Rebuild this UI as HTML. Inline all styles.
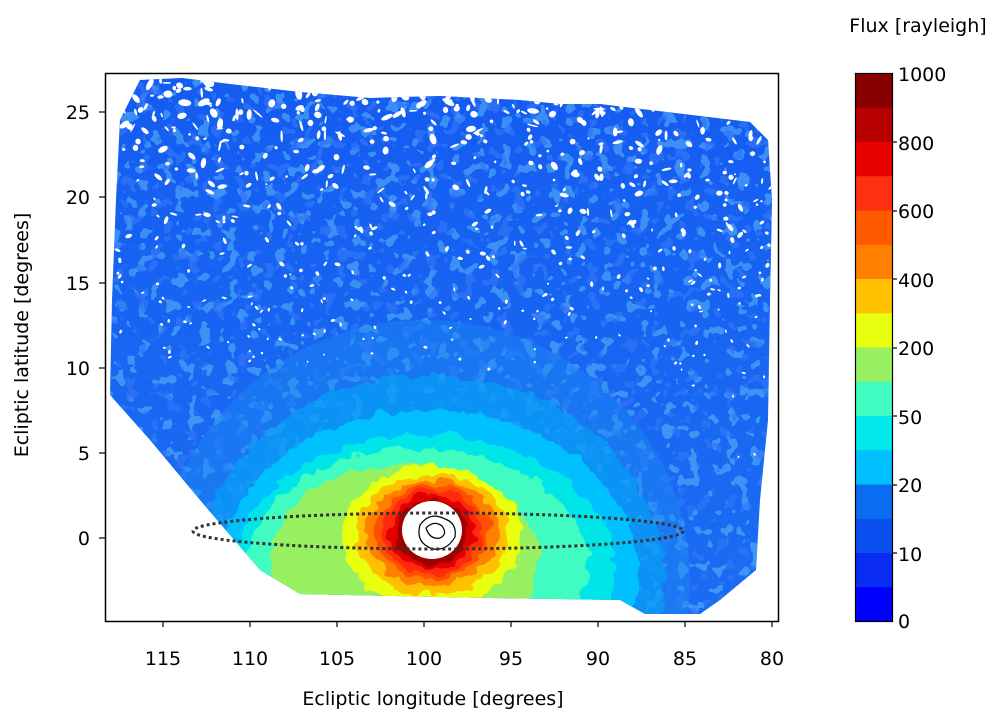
<!DOCTYPE html>
<html><head><meta charset="utf-8"><style>
html,body{margin:0;padding:0;background:#fff;overflow:hidden;width:1000px;height:725px;}
svg{display:block;}
svg text{font-family:"DejaVu Sans","Liberation Sans",sans-serif;fill:#000;}
</style></head><body>
<svg id="s" width="1000" height="725" viewBox="0 0 1000 725" xmlns="http://www.w3.org/2000/svg">
<defs>
<clipPath id="dom"><path d="M140,80 L182,78 L230,84 L300,92 L370,98 L440,96 L520,100 L560,104 L600,104 L650,110 L700,116 L750,122 L768,140 L772,200 L770,300 L768,420 L760,500 L756,570 L720,600 L700,614 L645,614 L620,600 L490,598 L300,594 L260,570 L200,500 L150,440 L110,395 L112,300 L116,200 L120,120 Z"/></clipPath>
<filter id="rough" x="-10%" y="-10%" width="120%" height="120%">
<feTurbulence type="fractalNoise" baseFrequency="0.07" numOctaves="2" seed="3"/>
<feDisplacementMap in="SourceGraphic" scale="16" xChannelSelector="R" yChannelSelector="G"/>
</filter>
<filter id="mottle" x="0" y="0" width="100%" height="100%"><feTurbulence type="fractalNoise" baseFrequency="0.08" numOctaves="2" seed="7"/>
<feColorMatrix type="matrix" values="0 0 0 0 0.03  0 0 0 0 0.18  0 0 0 0 0.95  4 0 0 0 -2.0"/>
<feComponentTransfer><feFuncA type="discrete" tableValues="0 1"/></feComponentTransfer></filter>
<filter id="mottle2" x="0" y="0" width="100%" height="100%"><feTurbulence type="fractalNoise" baseFrequency="0.08" numOctaves="2" seed="11"/>
<feColorMatrix type="matrix" values="0 0 0 0 0.12  0 0 0 0 0.52  0 0 0 0 0.95  0 4 0 0 -2.0"/>
<feComponentTransfer><feFuncA type="discrete" tableValues="0 1"/></feComponentTransfer></filter>
<linearGradient id="fade" x1="0" y1="0" x2="0" y2="1"><stop offset="0" stop-color="#0a3cf0" stop-opacity="0.35"/><stop offset="0.6" stop-color="#0a3cf0" stop-opacity="0.1"/><stop offset="1" stop-color="#0a3cf0" stop-opacity="0"/></linearGradient>
</defs>
<g clip-path="url(#dom)">
<rect x="100" y="70" width="680" height="560" fill="#1a6cf2"/>
<rect x="100" y="70" width="680" height="560" fill="url(#fade)"/>
<rect x="100" y="70" width="680" height="560" filter="url(#mottle2)" opacity="0.5"/>
<rect x="100" y="70" width="680" height="560" filter="url(#mottle)" opacity="0.7"/>
<ellipse cx="425" cy="580" rx="265" ry="260" fill="#1a8af2" opacity="0.45"/>
<g filter="url(#rough)">
<ellipse cx="430" cy="580" rx="235" ry="205" fill="#0aa8f8" opacity="0.55"/>
<ellipse cx="428" cy="575" rx="210" ry="165" fill="#00c0ff"/>
<ellipse cx="425" cy="570" rx="190" ry="135" fill="#00e6e8"/>
<ellipse cx="418" cy="566" rx="170" ry="118" fill="#40fcc0"/>
<ellipse cx="405" cy="560" rx="135" ry="95" fill="#96f060"/>
<ellipse cx="432" cy="536" rx="90" ry="70" fill="#e8ff10"/>
<ellipse cx="432" cy="534" rx="76" ry="60" fill="#ffc000"/>
<ellipse cx="432" cy="533" rx="66" ry="53" fill="#ff8000"/>
<ellipse cx="432" cy="532" rx="57" ry="47" fill="#ff5000"/>
<ellipse cx="432" cy="532" rx="50" ry="42" fill="#ff2a10"/>
<ellipse cx="432" cy="532" rx="43" ry="37" fill="#e00000"/>
<ellipse cx="432" cy="532" rx="36" ry="32" fill="#a00000"/>
</g>
<ellipse cx="432" cy="530" rx="30" ry="29" fill="#fff"/>
<g id="specks" fill="#fff"></g>
</g>
<path d="M420,525 q10,-14 25,-6 q12,4 10,18 q-8,14 -22,12 q-18,-6 -13,-24z" fill="none" stroke="#000" stroke-width="1.2"/>
<path d="M426,528 q8,-8 16,-2 q6,8 -2,12 q-10,2 -14,-10z" fill="none" stroke="#000" stroke-width="1.2"/>
<ellipse cx="438" cy="531" rx="245" ry="18" fill="none" stroke="#333" stroke-width="3" stroke-dasharray="3,3"/>
<rect x="105.5" y="73.5" width="673" height="548" fill="none" stroke="#000" stroke-width="1.5"/>
<g stroke="#000" stroke-width="1.2">
<line x1="163" y1="621" x2="163" y2="627"/><line x1="250" y1="621" x2="250" y2="627"/><line x1="337" y1="621" x2="337" y2="627"/><line x1="424" y1="621" x2="424" y2="627"/><line x1="511" y1="621" x2="511" y2="627"/><line x1="598" y1="621" x2="598" y2="627"/><line x1="685" y1="621" x2="685" y2="627"/><line x1="772" y1="621" x2="772" y2="627"/>
<line x1="99" y1="112" x2="105" y2="112"/><line x1="99" y1="197" x2="105" y2="197"/><line x1="99" y1="283" x2="105" y2="283"/><line x1="99" y1="368" x2="105" y2="368"/><line x1="99" y1="453" x2="105" y2="453"/><line x1="99" y1="538" x2="105" y2="538"/>
</g>
<g font-size="19" text-anchor="middle">
<text x="163" y="665">115</text><text x="250" y="665">110</text><text x="337" y="665">105</text><text x="424" y="665">100</text><text x="511" y="665">95</text><text x="598" y="665">90</text><text x="685" y="665">85</text><text x="772" y="665">80</text>
</g>
<g font-size="19" text-anchor="end">
<text x="90" y="119">25</text><text x="90" y="204">20</text><text x="90" y="290">15</text><text x="90" y="375">10</text><text x="90" y="460">5</text><text x="90" y="545">0</text>
</g>
<text x="433" y="705" font-size="19" text-anchor="middle">Ecliptic longitude [degrees]</text>
<text transform="translate(28,335) rotate(-90)" font-size="19" text-anchor="middle">Ecliptic latitude [degrees]</text>
<text x="918" y="32" font-size="19" text-anchor="middle">Flux [rayleigh]</text>
<g id="cb"></g>
<rect x="855.5" y="73.5" width="37" height="548" fill="none" stroke="#000" stroke-width="1.2"/>
<g font-size="19">
<text x="898" y="81">1000</text><text x="898" y="150">800</text><text x="898" y="218">600</text><text x="898" y="287">400</text><text x="898" y="355">200</text><text x="898" y="424">50</text><text x="898" y="492">20</text><text x="898" y="561">10</text><text x="898" y="628">0</text>
</g>
<g stroke="#000" stroke-width="1.2">
<line x1="892" y1="142" x2="897" y2="142"/><line x1="892" y1="211" x2="897" y2="211"/><line x1="892" y1="279" x2="897" y2="279"/><line x1="892" y1="348" x2="897" y2="348"/><line x1="892" y1="416" x2="897" y2="416"/><line x1="892" y1="485" x2="897" y2="485"/><line x1="892" y1="553" x2="897" y2="553"/>
</g>
</svg>
<script>
var ns="http://www.w3.org/2000/svg";
var cols=["#0000ff","#0a2cf2","#0a50f0","#0a6cf0","#00c0ff","#00e8e8","#40fcc0","#96f060","#e8ff10","#ffc000","#ff8000","#ff5a00","#ff3010","#e80000","#b80000","#880000"];
var cb=document.getElementById("cb");
for(var i=0;i<16;i++){var r=document.createElementNS(ns,"rect");var h=548/16;
r.setAttribute("x",856);r.setAttribute("y",621-(i+1)*h);r.setAttribute("width",36);r.setAttribute("height",h+0.5);
r.setAttribute("fill",cols[i]);cb.appendChild(r);}
var seed=12345;function rnd(){seed=(seed*16807)%2147483647;return seed/2147483647;}
var g=document.getElementById("specks");
for(var k=0;k<700;k++){var y=80+Math.pow(rnd(),2.0)*290;var x=112+rnd()*660;
if(x>680&&rnd()<0.35)y+=rnd()*260;
var e=document.createElementNS(ns,"ellipse");var s=Math.max(0.2,1-(y-80)/300);
e.setAttribute("cx",x);e.setAttribute("cy",y);e.setAttribute("rx",1+rnd()*6*s);e.setAttribute("ry",0.8+rnd()*3*s);
e.setAttribute("transform","rotate("+(rnd()*180)+" "+x+" "+y+")");g.appendChild(e);}
</script>
</body></html>
